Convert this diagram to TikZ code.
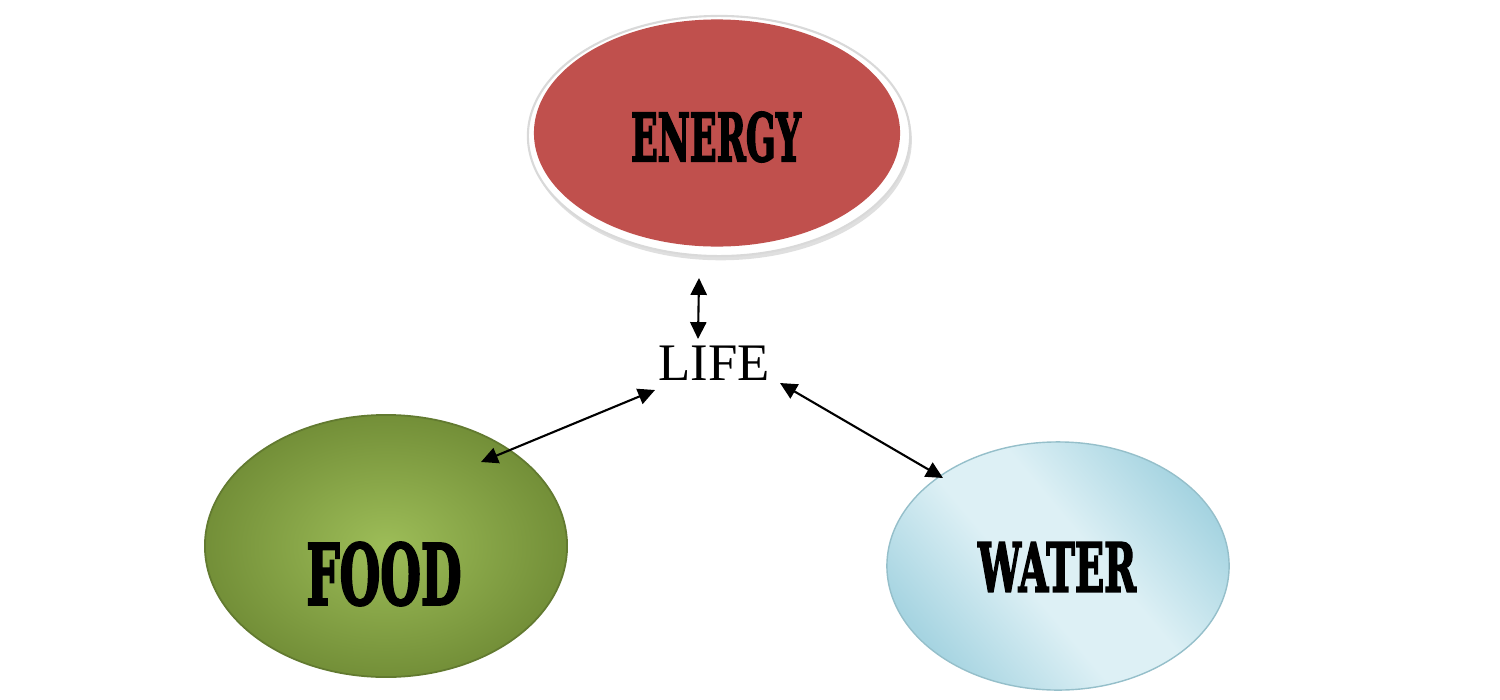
\documentclass[tikz,border=0pt]{standalone}
\usepackage{fontspec}
\usepackage{graphicx}
\setmainfont{Liberation Serif}
\newfontfamily\labfont[FakeBold=3.2]{DejaVu Serif}
\usetikzlibrary{shapes.geometric,arrows.meta,shadows}
\definecolor{enred}{HTML}{C0504D}
\definecolor{fgreenin}{HTML}{9DBD58}
\definecolor{fgreenout}{HTML}{738F38}
\definecolor{wlight}{HTML}{DDF0F5}
\definecolor{wdark}{HTML}{A6D4E1}
\pgfdeclarehorizontalshading{waterband}{100bp}{color(0bp)=(wdark); color(25bp)=(wdark); color(44bp)=(wlight); color(56bp)=(wlight); color(75bp)=(wdark); color(100bp)=(wdark)}
\tikzset{
  blob/.style={ellipse, inner sep=0pt},
  biglabel/.style={inner sep=0pt, text=black},
  link/.style={line width=0.6pt, {Triangle[length=4.8pt,width=4.6pt]}-{Triangle[length=4.8pt,width=4.6pt]}},
}
\newcommand{\lab}[3]{\resizebox{#1}{#2}{\labfont\bfseries #3}}
\begin{document}
\begin{tikzpicture}[x=0.01cm,y=-0.01cm]
\useasboundingbox (0,0) rectangle (1500,700);
% ENERGY
\node[blob, minimum width=3.82cm, minimum height=2.40cm, fill=white, draw=gray!30, line width=0.6pt,
      drop shadow={shadow xshift=0.5pt, shadow yshift=-1.2pt, fill=black!25, opacity=0.5}] (energyrim) at (719,136) {};
\node[blob, minimum width=3.66cm, minimum height=2.27cm, fill=enred] (energy) at (717,133) {};
\node[biglabel] (energytxt) at (716,137) {\lab{1.70cm}{0.49cm}{ENERGY}};
% FOOD
\node[blob, minimum width=3.62cm, minimum height=2.62cm, inner color=fgreenin, outer color=fgreenout,
      draw=fgreenout!85!black, line width=0.5pt] (food) at (386,546) {};
\node[biglabel] (foodtxt) at (384,574) {\lab{1.55cm}{0.62cm}{FOOD}};
% WATER
\node[blob, minimum width=3.42cm, minimum height=2.48cm, shading=waterband, shading angle=40,
      draw=wdark!90!black, line width=0.4pt] (water) at (1058,566) {};
\node[biglabel] (watertxt) at (1057,567) {\lab{1.58cm}{0.49cm}{WATER}};
% LIFE
\node[inner sep=0pt, font=\fontsize{15}{18}\selectfont] (life) at (714,363) {LIFE};
% arrow ends
\coordinate (eA) at (699,278);
\coordinate (lA) at (698,339);
\coordinate (lB) at (655,390);
\coordinate (fB) at (481,462);
\coordinate (lC) at (780,383);
\coordinate (wC) at (943,478);
\draw[link] (eA) -- (lA);
\draw[link] (lB) -- (fB);
\draw[link] (lC) -- (wC);
\end{tikzpicture}
\end{document}
